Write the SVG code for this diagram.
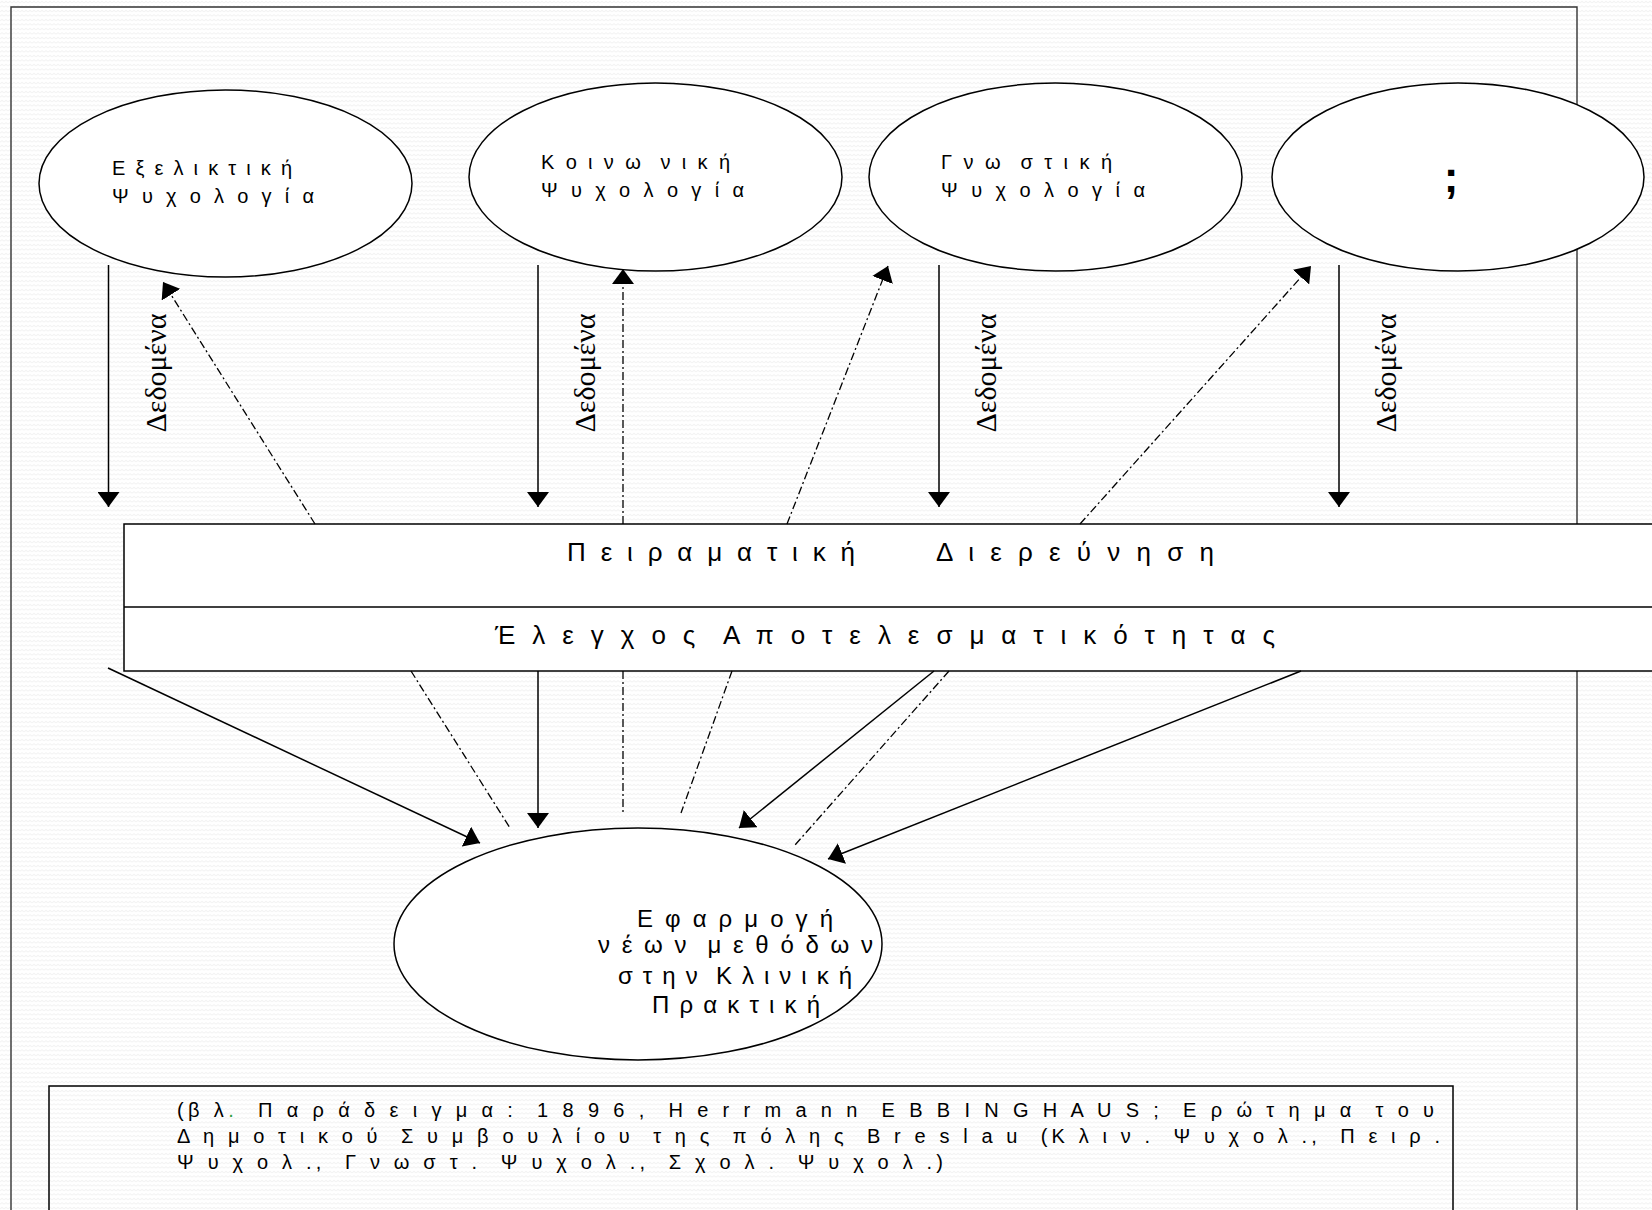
<svg xmlns="http://www.w3.org/2000/svg" width="1652" height="1210" viewBox="0 0 1652 1210">
<style>
.sans{font-family:"Liberation Sans",Arial,sans-serif;fill:#000;white-space:pre}
.serif{font-family:"Liberation Serif","Times New Roman",serif;fill:#000}
.node{fill:#fff;stroke:#000;stroke-width:1.5}
.solid{fill:none;stroke:#000;stroke-width:1.5}
.dash{fill:none;stroke:#000;stroke-width:1.3;stroke-dasharray:8 3 2 3}
.frame{fill:none;stroke:#333;stroke-width:1.4}
</style>
<defs>
<pattern id="bg" width="4" height="4.5" patternUnits="userSpaceOnUse">
<path d="M0,3 L2,1.2 L4,3" fill="none" stroke="#e6e6e6" stroke-width="0.8"/>
</pattern>
<marker id="ah" markerUnits="userSpaceOnUse" markerWidth="15" markerHeight="22" viewBox="0 0 15 22" refX="15" refY="11" orient="auto">
<path d="M0,0 L15,11 L0,22 z" fill="#000"/>
</marker>
</defs>
<rect x="0" y="0" width="1652" height="1210" fill="#fff"/>
<rect x="0" y="0" width="1652" height="1210" fill="url(#bg)"/>
<g id="frame">
<path class="frame" d="M11,1210 L11,7 L1577,7 L1577,1210"/>
</g>
<g id="node-exeliktiki">
<ellipse class="node" cx="225.5" cy="183.5" rx="186.5" ry="93.5"/>
<text class="sans" font-size="20" x="112" y="175" textLength="180" lengthAdjust="spacing">Ε ξ ε λ ι κ τ ι κ ή</text>
<text class="sans" font-size="20" x="112" y="203" textLength="202" lengthAdjust="spacing">Ψ υ χ ο λ ο γ ί α</text>
</g>
<g id="node-koinoniki">
<ellipse class="node" cx="655.5" cy="177" rx="186.5" ry="94"/>
<text class="sans" font-size="20" x="541" y="169" textLength="189" lengthAdjust="spacing">Κ ο ι ν ω  ν ι κ ή</text>
<text class="sans" font-size="20" x="541" y="197" textLength="203" lengthAdjust="spacing">Ψ υ χ ο λ ο γ ί α</text>
</g>
<g id="node-gnostiki">
<ellipse class="node" cx="1055.5" cy="177" rx="186.5" ry="94"/>
<text class="sans" font-size="20" x="941" y="169" textLength="171" lengthAdjust="spacing">Γ ν ω  σ τ ι κ ή</text>
<text class="sans" font-size="20" x="941" y="197" textLength="204" lengthAdjust="spacing">Ψ υ χ ο λ ο γ ί α</text>
</g>
<g id="node-unknown">
<ellipse class="node" cx="1458" cy="177" rx="186" ry="94"/>
<text class="sans" font-size="44" font-weight="bold" x="1451" y="192" text-anchor="middle">;</text>
</g>
<g id="node-peiramatiki">
<rect class="node" x="124" y="524" width="1545" height="147"/>
<line class="solid" x1="124" y1="607" x2="1669" y2="607"/>
<text class="sans" font-size="26" y="561"><tspan x="567" textLength="288" lengthAdjust="spacing">Π ε ι ρ α μ α τ ι κ ή</tspan><tspan x="936" textLength="278" lengthAdjust="spacing">Δ ι ε ρ ε ύ ν η σ η</tspan></text>
<text class="sans" font-size="26" x="495" y="644" textLength="780" lengthAdjust="spacing">Έ λ ε γ χ ο ς  Α π ο τ ε λ ε σ μ α τ ι κ ό τ η τ α ς</text>
</g>
<g id="node-efarmogi">
<ellipse class="node" cx="638" cy="944" rx="244" ry="116"/>
<text class="sans" font-size="24" x="637" y="927" textLength="196" lengthAdjust="spacing">Ε φ α ρ μ ο γ ή</text>
<text class="sans" font-size="24" x="598" y="953" textLength="275" lengthAdjust="spacing">ν έ ω ν  μ ε θ ό δ ω ν</text>
<text class="sans" font-size="24" x="618" y="984" textLength="234" lengthAdjust="spacing">σ τ η ν  Κ λ ι ν ι κ ή</text>
<text class="sans" font-size="24" x="652" y="1013" textLength="168" lengthAdjust="spacing">Π ρ α κ τ ι κ ή</text>
</g>
<g id="connectors">
<line class="solid" x1="108.5" y1="265" x2="108.5" y2="507" marker-end="url(#ah)"/>
<line class="solid" x1="538" y1="265" x2="538" y2="507" marker-end="url(#ah)"/>
<line class="solid" x1="939" y1="265" x2="939" y2="507" marker-end="url(#ah)"/>
<line class="solid" x1="1339" y1="265" x2="1339" y2="507" marker-end="url(#ah)"/>
<line class="dash" x1="315" y1="524" x2="163" y2="282" marker-end="url(#ah)"/>
<line class="dash" x1="623" y1="524" x2="623" y2="269" marker-end="url(#ah)"/>
<line class="dash" x1="787" y1="524" x2="888" y2="266" marker-end="url(#ah)"/>
<line class="dash" x1="1080" y1="524" x2="1311" y2="266" marker-end="url(#ah)"/>
<line class="solid" x1="108" y1="668" x2="480" y2="843" marker-end="url(#ah)"/>
<line class="dash" x1="411" y1="671" x2="510" y2="828"/>
<line class="solid" x1="538" y1="671" x2="538" y2="828" marker-end="url(#ah)"/>
<line class="dash" x1="623" y1="671" x2="623" y2="813"/>
<line class="dash" x1="732" y1="671" x2="681" y2="813"/>
<line class="solid" x1="934" y1="671" x2="739" y2="828" marker-end="url(#ah)"/>
<line class="dash" x1="949" y1="671" x2="795" y2="845"/>
<line class="solid" x1="1301" y1="671" x2="828" y2="859" marker-end="url(#ah)"/>
<text class="serif" font-size="30" text-anchor="middle" transform="translate(165.5,373) rotate(-90)">Δεδομένα</text>
<text class="serif" font-size="30" text-anchor="middle" transform="translate(595,373) rotate(-90)">Δεδομένα</text>
<text class="serif" font-size="30" text-anchor="middle" transform="translate(996,373) rotate(-90)">Δεδομένα</text>
<text class="serif" font-size="30" text-anchor="middle" transform="translate(1396,373) rotate(-90)">Δεδομένα</text>
</g>
<g id="note">
<rect x="49" y="1086" width="1404" height="200" fill="none" stroke="#000" stroke-width="1.5"/>
<text class="sans" font-size="20" x="177" y="1117" textLength="1257" lengthAdjust="spacing">(β λ<tspan fill="#2e9e3e">.</tspan>  Π α ρ ά δ ε ι γ μ α :  1 8 9 6 ,  H e r r m a n n  E B B I N G H A U S ;  Ε ρ ώ τ η μ α  τ ο υ</text>
<text class="sans" font-size="20" x="177" y="1143" textLength="1263" lengthAdjust="spacing">Δ η μ ο τ ι κ ο ύ  Σ υ μ β ο υ λ ί ο υ  τ η ς  π ό λ η ς  B r e s l a u  (Κ λ ι ν .  Ψ υ χ ο λ .,  Π ε ι ρ .</text>
<text class="sans" font-size="20" x="177" y="1169" textLength="766" lengthAdjust="spacing">Ψ υ χ ο λ .,  Γ ν ω σ τ .  Ψ υ χ ο λ .,  Σ χ ο λ .  Ψ υ χ ο λ .)</text>
</g>
</svg>
